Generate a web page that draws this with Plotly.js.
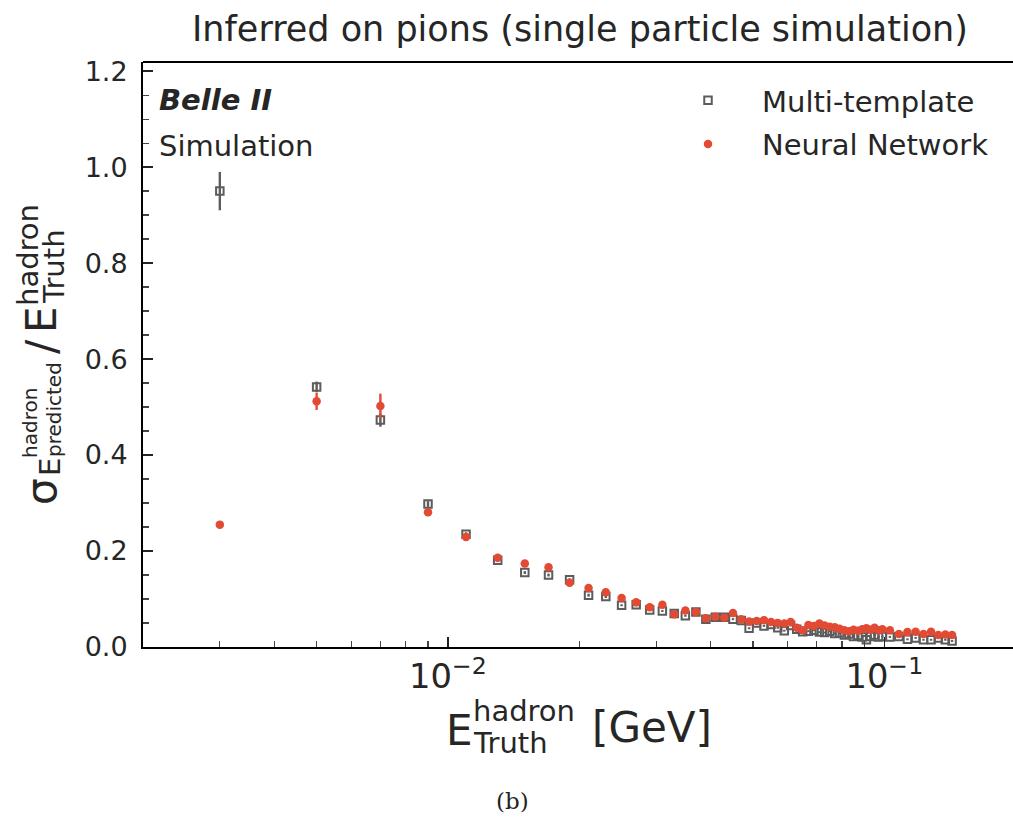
<!DOCTYPE html>
<html>
<head>
<meta charset="utf-8">
<script src="https://cdn.plot.ly/plotly-3.0.1.min.js"></script>
<style>
html,body{margin:0;padding:0;background:#fff;overflow:hidden;}
#chart{width:1013px;height:817px;}
</style>
</head>
<body>
<div id="chart"></div>
<script>
// ---- data ----
var energy = [0.003,0.005,0.007,0.009,0.011,0.013,0.015,0.017,0.019,0.021,
  0.023,0.025,0.027,0.029,0.031,0.033,0.035,0.037,0.039,0.041,
  0.043,0.045,0.047,0.049,0.051,0.053,0.055,0.057,0.059,0.061,
  0.063,0.065,0.067,0.069,0.071,0.073,0.075,0.077,0.079,0.081,
  0.083,0.085,0.087,0.089,0.091,0.093,0.095,0.097,0.099,
  0.103,0.108,0.113,0.118,0.123,0.128,0.133,0.138,0.143];

var multiTemplate = [0.950,0.542,0.473,0.298,0.235,0.181,0.155,0.150,0.140,0.108,
  0.105,0.087,0.088,0.077,0.075,0.070,0.065,0.073,0.058,0.062,
  0.062,0.058,0.055,0.039,0.050,0.044,0.047,0.040,0.034,0.045,
  0.037,0.032,0.033,0.035,0.031,0.030,0.033,0.028,0.029,0.025,
  0.027,0.022,0.024,0.021,0.015,0.022,0.025,0.021,0.022,
  0.021,0.022,0.016,0.019,0.015,0.015,0.019,0.015,0.0125];

var multiTemplateErr = [0.040,0.011,0.014,0.006,0.004,0.004,0.003,0.003,0.003,0.003,
  0.003,0.002,0.002,0.002,0.002,0.002,0.002,0.002,0.002,0.002,
  0.002,0.002,0.002,0.002,0.002,0.002,0.002,0.002,0.002,0.002,
  0.002,0.002,0.002,0.002,0.002,0.002,0.002,0.002,0.002,0.002,
  0.002,0.002,0.002,0.002,0.002,0.002,0.002,0.002,0.002,
  0.002,0.002,0.002,0.002,0.002,0.002,0.002,0.002,0.002];

var neuralNetwork = [0.255,0.512,0.502,0.281,0.229,0.186,0.174,0.166,0.134,0.123,
  0.114,0.102,0.093,0.083,0.088,0.068,0.076,0.073,0.060,0.063,
  0.061,0.071,0.058,0.053,0.054,0.056,0.052,0.050,0.049,0.052,
  0.040,0.035,0.046,0.044,0.049,0.045,0.042,0.041,0.038,0.035,
  0.033,0.036,0.034,0.037,0.039,0.036,0.040,0.035,0.037,
  0.035,0.027,0.031,0.032,0.027,0.032,0.025,0.026,0.025];

var neuralNetworkErr = [0.004,0.018,0.026,0.006,0.004,0.004,0.003,0.003,0.003,0.003,
  0.003,0.002,0.002,0.002,0.002,0.002,0.002,0.002,0.002,0.002,
  0.002,0.002,0.002,0.002,0.002,0.002,0.002,0.002,0.002,0.002,
  0.002,0.002,0.002,0.002,0.002,0.002,0.002,0.002,0.002,0.002,
  0.002,0.002,0.002,0.002,0.002,0.002,0.002,0.002,0.002,
  0.002,0.002,0.002,0.002,0.002,0.002,0.002,0.002,0.002];

var seriesNames = ["Multi-template", "Neural Network"];
var titleText = "Inferred on pions (single particle simulation)";

// ---- layout helpers ----
var W = 1013, H = 817;
var L = 143, R = 0, T = 62, B = 170;
var PW = W - L - R, PH = H - T - B;
function px(x){ return (x - L) / PW; }
function py(y){ return (H - B - y) / PH; }

var FONT = "DejaVu Sans";
var TXT = "#262626";
var GREY = "#5c5c5c";
var RED = "#e24a33";

var traces = [
  {
    type: "scatter", mode: "markers", name: seriesNames[0],
    x: energy, y: multiTemplate,
    error_y: {type: "data", array: multiTemplateErr, visible: true, color: GREY, thickness: 2.4, width: 0},
    marker: {symbol: "square-open", size: 7.5, color: GREY, line: {width: 2, color: GREY}},
    legendgroup: "a"
  },
  {
    type: "scatter", mode: "markers", name: seriesNames[1],
    x: energy, y: neuralNetwork,
    error_y: {type: "data", array: neuralNetworkErr, visible: true, color: RED, thickness: 2.4, width: 0},
    marker: {symbol: "circle", size: 8.5, color: RED},
    legendgroup: "b"
  }
];

function ann(text, x, y, size, opts){
  var a = {text: text, xref: "paper", yref: "paper", x: px(x), y: py(y),
    showarrow: false, xanchor: "left", yanchor: "middle",
    font: {family: FONT, size: size, color: TXT}};
  if (opts) for (var k in opts) a[k] = opts[k];
  return a;
}
function rot(text, x, y, size){
  return ann(text, x, y, size, {textangle: -90, xanchor: "center", yanchor: "middle"});
}

var annotations = [
  ann("<b><i>Belle II</i></b>", 157, 100, 29),
  ann("Simulation", 157, 146, 29),
  // x-axis title pieces
  ann("E", 444, 730, 42),
  ann("hadron", 471, 711, 29),
  ann("Truth", 471, 743, 29),
  ann("[GeV]", 590, 727, 42),
  // y-axis title pieces (rotated)
  rot("σ", 41, 492, 42),
  rot("E", 50, 467, 29),
  rot("hadron", 30, 423, 20),
  rot("predicted", 54, 410, 20),
  rot("/", 41, 347, 42),
  rot("E", 41, 320, 42),
  rot("hadron", 28, 255, 29),
  rot("Truth", 54, 267, 29),
  // caption
  ann("(b)", 512, 801, 23, {xanchor: "center", font: {family: "DejaVu Serif", size: 23, color: "#222"}})
];

var layout = {
  width: W, height: H,
  margin: {l: L, r: R, t: T, b: B, pad: 0},
  paper_bgcolor: "#fff", plot_bgcolor: "#fff",
  title: {text: titleText, font: {family: FONT, size: 35, color: TXT}, x: 580 / W, xanchor: "center", y: 0.965, yanchor: "middle"},
  showlegend: true,
  legend: {x: px(654), y: py(75), xanchor: "left", yanchor: "top",
    font: {family: FONT, size: 29, color: TXT}, bgcolor: "rgba(0,0,0,0)",
    itemwidth: 98, traceorder: "grouped", tracegroupgap: 3},
  xaxis: {
    type: "log", range: [Math.log10(0.002), -0.705], dtick: 1, exponentformat: "power",
    showgrid: false, zeroline: false,
    showline: true, linecolor: "#000", linewidth: 2, mirror: false,
    ticks: "inside", ticklen: 10, tickwidth: 1.5, tickcolor: "#222",
    tickfont: {family: FONT, size: 27, color: TXT},
    minor: {ticks: "inside", ticklen: 6, tickwidth: 1.2, tickcolor: "#444", dtick: "D1", showgrid: false}
  },
  yaxis: {
    range: [0, 1.219], dtick: 0.2, tickformat: ".1f",
    showgrid: false, zeroline: false,
    showline: true, linecolor: "#000", linewidth: 2, mirror: false,
    ticks: "inside", ticklen: 10, tickwidth: 1.5, tickcolor: "#222",
    ticklabelstandoff: 8,
    tickfont: {family: FONT, size: 27, color: TXT},
    minor: {ticks: "inside", ticklen: 6, tickwidth: 1.2, tickcolor: "#444", dtick: 0.05, showgrid: false}
  },
  shapes: [
    {type: "line", xref: "paper", yref: "paper", x0: 0, x1: 1, y0: 1, y1: 1, line: {color: "#000", width: 2}}
  ],
  annotations: annotations
};

Plotly.newPlot("chart", traces, layout, {displayModeBar: false, staticPlot: true});
</script>
</body>
</html>
